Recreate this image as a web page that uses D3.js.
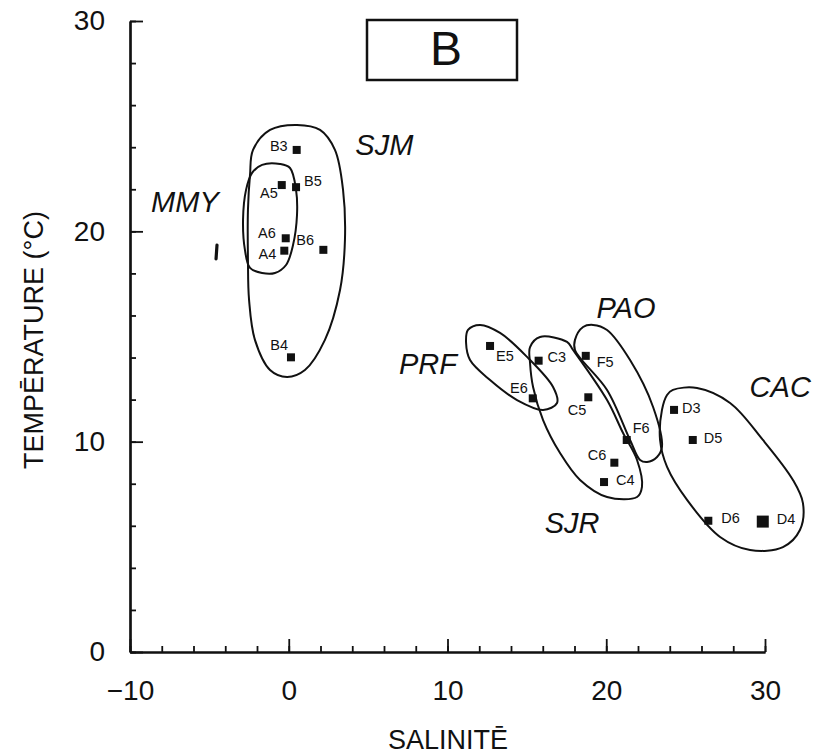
<!DOCTYPE html>
<html>
<head>
<meta charset="utf-8">
<script src="https://cdn.jsdelivr.net/npm/d3@7"></script>
<style>
  html, body { margin: 0; padding: 0; background: #fff; }
  svg text { font-family: "Liberation Sans", Arial, Helvetica, sans-serif; fill: #111; }
</style>
</head>
<body>
<svg id="chart" width="823" height="755"></svg>
<script>
// Stations: salinity (x) and temperature in °C (y)
const stations = ["B3", "A5", "B5", "A6", "A4", "B6", "B4",
                  "E5", "C3", "E6", "F5", "C5", "F6", "C6", "C4",
                  "D3", "D5", "D6", "D4"];
const salinity = [0.5, -0.44, 0.46, -0.19, -0.28, 2.18, 0.14,
                  12.68, 15.74, 15.37, 18.71, 18.87, 21.29, 20.51, 19.86,
                  24.27, 25.45, 26.43, 29.86];
const temperature = [23.87, 22.2, 22.1, 19.67, 19.08, 19.12, 14.01,
                     14.55, 13.85, 12.06, 14.08, 12.11, 10.08, 9.0, 8.08,
                     11.51, 10.08, 6.24, 6.2];

// Site groupings: names and enclosing outlines in (salinity, temperature)
const groupNames = ["SJM", "MMY", "PRF", "SJR", "PAO", "CAC"];
const outlineSJM = [[0.52,25.06],[1.97,24.82],[2.91,23.87],[3.42,21.97],[3.54,19.59],[3.23,17.21],[2.28,14.84],[1.02,13.41],[-0.11,13.08],[-1.18,13.41],[-2.13,14.84],[-2.5,16.74],[-2.57,18.64],[-2.57,21.02],[-2.44,22.68],[-2.25,23.87],[-1.18,24.82]];
const outlineMMY = [[-1.68,23.16],[-0.55,23.2],[0.08,23.01],[0.46,21.97],[0.52,20.78],[0.27,19.35],[-0.17,18.4],[-0.87,18.02],[-1.68,18.02],[-2.44,18.26],[-2.76,19.12],[-2.88,20.54],[-2.69,21.97],[-2.31,22.78]];
const outlinePRF = [[11.29,15.31],[12.05,15.55],[13.31,15.17],[15.01,14.03],[16.65,12.6],[16.9,11.84],[16.02,11.51],[14.38,11.98],[12.68,12.93],[11.42,13.88],[11.17,14.69]];
const outlineSJR = [[15.2,14.5],[15.83,14.98],[17.53,14.74],[17.91,14.36],[20.05,11.98],[21.06,10.41],[21.94,9.13],[22.25,7.85],[21.94,7.37],[20.05,7.37],[18.35,8.18],[17.09,9.46],[16.02,11.03],[15.39,12.6],[15.2,13.74]];
const outlinePAO = [[18.54,15.45],[19.17,15.55],[20.05,15.31],[21.5,13.88],[22.95,11.65],[23.51,9.75],[23.2,9.27],[22.57,9.03],[22.13,9.13],[21.5,10.08],[20.05,12.46],[18.03,14.36],[18.03,14.84]];
const outlineCAC = [[24.2,12.46],[25.72,12.55],[27.8,11.84],[29.87,10.08],[31.76,8.18],[32.39,7.08],[32.2,5.8],[31.13,4.99],[29.06,4.85],[27.17,5.47],[25.09,7.23],[23.83,8.8],[23.39,10.08],[23.51,11.51],[23.83,12.22]];
// Anchor point of each group name (salinity, temperature at the text baseline)
const groupLabelX = [6.02, -6.54, 8.77, 17.85, 21.24, 30.96];
const groupLabelY = [23.63, 20.92, 13.22, 5.66, 15.88, 12.13];
// Small isolated trace left of the MMY group
const strayMark = [[-4.52, 19.35], [-4.58, 18.69]];

// Axis ticks
const xMajorTicks = [-10, 0, 10, 20, 30];
const yMajorTicks = [0, 10, 20, 30];
const xMinorTicks = d3.range(-10, 30.01, 2);
const yMinorTicks = d3.range(0, 30.01, 2);

const panelLetter = "B";
const xTitle = "SALINITĒ";
const yTitle = "TEMPĒRATURE (°C)";

// ---- layout ----
const svg = d3.select("#chart");
const x = d3.scaleLinear().domain([-10, 30]).range([130, 765]);
const y = d3.scaleLinear().domain([0, 30]).range([652, 21]);
const FONT_TICK = 28;

// label placement around each marker: [dx, dy, anchor]
const labelPlace = {
  B3: [-9, 1, "end"],  A5: [-4, 13, "end"], B5: [8, -1, "start"],
  A6: [-10, 0, "end"], A4: [-8, 8, "end"],  B6: [-27, -5, "start"],
  B4: [-3, -7, "end"], E5: [6, 15, "start"], C3: [9, 1, "start"],
  E6: [-5, -5, "end"], F5: [11, 11, "start"], C5: [-2, 18, "end"],
  F6: [6, -7, "start"], C6: [-8, -3, "end"], C4: [12, 3, "start"],
  D3: [8, 3, "start"], D5: [11, 3, "start"], D6: [13, 2, "start"],
  D4: [14, 2, "start"]
};
const bigMarks = new Set(["D4"]);

// ---- axes ----
const gx = svg.append("g").attr("transform", `translate(0,${y(0)})`);
gx.call(d3.axisBottom(x).tickValues(xMinorTicks).tickSize(-6).tickSizeOuter(0).tickFormat(""));
gx.append("g").call(d3.axisBottom(x).tickValues(xMajorTicks).tickSize(-13).tickSizeOuter(0)
    .tickPadding(28).tickFormat(d3.format("d")));

const gy = svg.append("g").attr("transform", `translate(${x(-10)},0)`);
gy.call(d3.axisLeft(y).tickValues(yMinorTicks).tickSize(-6).tickSizeOuter(0).tickFormat(""));
gy.append("g").call(d3.axisLeft(y).tickValues(yMajorTicks).tickSize(-13).tickSizeOuter(0)
    .tickPadding(25).tickFormat(d3.format("d")));

svg.selectAll(".domain").attr("stroke", "#111").attr("stroke-width", 2.2);
svg.selectAll(".tick line").attr("stroke", "#111").attr("stroke-width", 1.8);
svg.selectAll(".tick text")
  .attr("font-size", FONT_TICK)
  .attr("font-family", "'Liberation Sans', Arial, sans-serif")
  .attr("fill", "#111");

// axis titles
svg.append("text")
  .attr("x", 448).attr("y", 749)
  .attr("text-anchor", "middle")
  .attr("font-size", 27)
  .text(xTitle);

svg.append("text")
  .attr("transform", "translate(43,340) rotate(-90)")
  .attr("text-anchor", "middle")
  .attr("font-size", 27)
  .text(yTitle);

// panel letter box
svg.append("rect")
  .attr("x", 367).attr("y", 20).attr("width", 150).attr("height", 60)
  .attr("fill", "none").attr("stroke", "#111").attr("stroke-width", 2.5);
svg.append("text")
  .attr("x", 446).attr("y", 65)
  .attr("text-anchor", "middle")
  .attr("font-size", 48)
  .text(panelLetter);

// ---- group outlines ----
const outline = d3.line()
  .x(d => x(d[0])).y(d => y(d[1]))
  .curve(d3.curveCatmullRomClosed.alpha(0.5));
const outlines = [outlineSJM, outlineMMY, outlinePRF, outlineSJR, outlinePAO, outlineCAC];
svg.append("g").selectAll("path")
  .data(outlines)
  .join("path")
  .attr("d", outline)
  .attr("fill", "none")
  .attr("stroke", "#111")
  .attr("stroke-width", 2);

svg.append("path")
  .attr("d", d3.line().x(d => x(d[0])).y(d => y(d[1]))(strayMark))
  .attr("stroke", "#111").attr("stroke-width", 3.2).attr("stroke-linecap", "round")
  .attr("fill", "none");

// group names
svg.append("g").selectAll("text")
  .data(groupNames)
  .join("text")
  .attr("x", (d, i) => x(groupLabelX[i]))
  .attr("y", (d, i) => y(groupLabelY[i]))
  .attr("text-anchor", "middle")
  .attr("font-size", 29)
  .attr("font-style", "italic")
  .text(d => d);

// ---- stations ----
const pts = stations.map((s, i) => ({ id: s, sal: salinity[i], t: temperature[i] }));
svg.append("g").selectAll("rect")
  .data(pts)
  .join("rect")
  .each(function (d) {
    const s = bigMarks.has(d.id) ? 12 : 8;
    d3.select(this)
      .attr("x", x(d.sal) - s / 2).attr("y", y(d.t) - s / 2)
      .attr("width", s).attr("height", s);
  })
  .attr("fill", "#111");

svg.append("g").selectAll("text")
  .data(pts)
  .join("text")
  .attr("x", d => x(d.sal) + labelPlace[d.id][0])
  .attr("y", d => y(d.t) + labelPlace[d.id][1])
  .attr("text-anchor", d => labelPlace[d.id][2])
  .attr("font-size", 14.5)
  .text(d => d.id);
</script>
</body>
</html>
